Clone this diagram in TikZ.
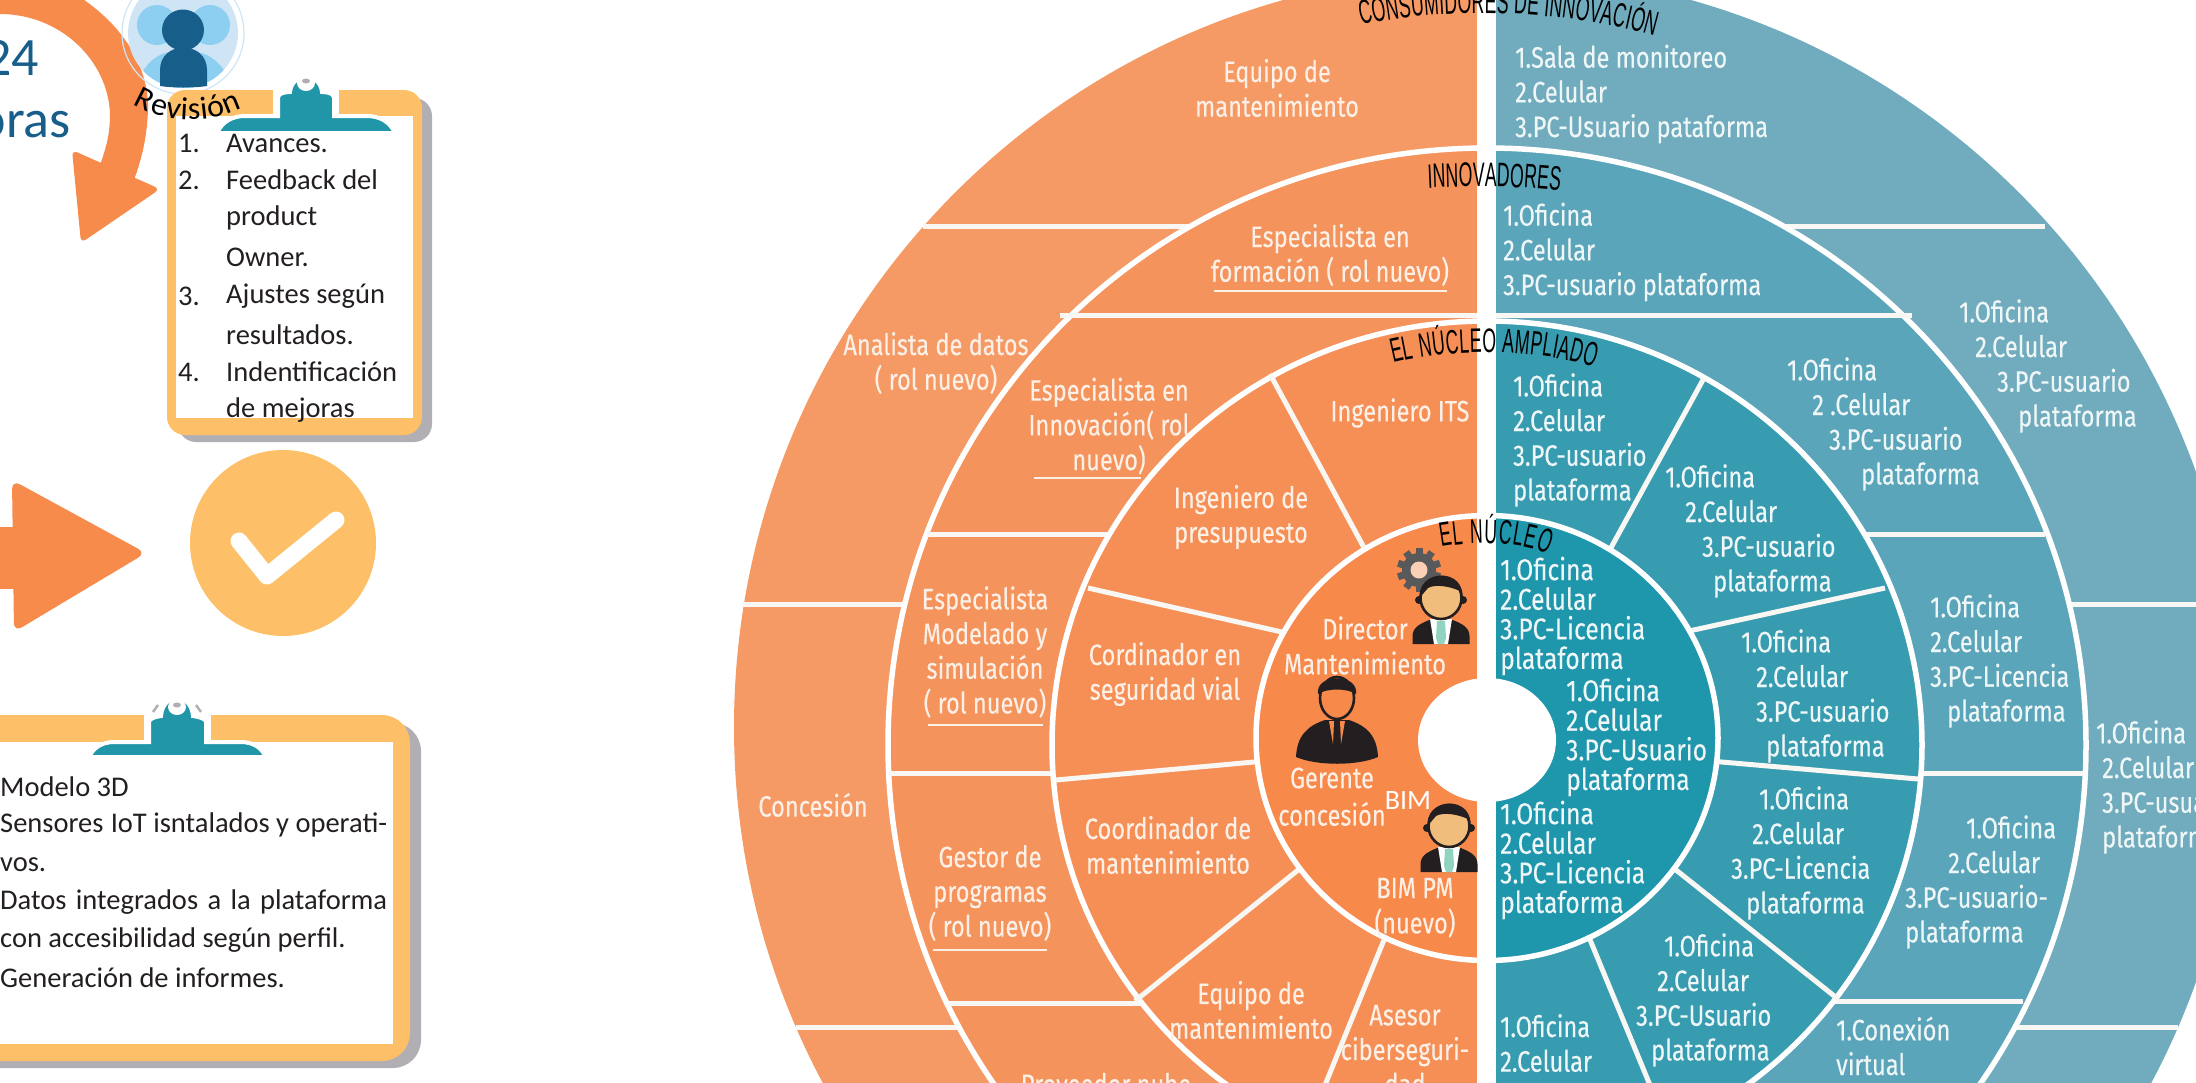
\documentclass[tikz,border=0pt]{standalone}
\usepackage{fontspec}
\usetikzlibrary{decorations.text}
\setmainfont{Carlito}
\newfontfamily\ringfam[FakeStretch=0.8,FakeBold=0.25]{Fira Sans}
\newfontfamily\nucfam[FakeStretch=0.82,FakeBold=0.25]{Fira Sans}
\newfontfamily\archfam[FakeStretch=0.52]{Liberation Sans}
\newcommand{\ringfont}{\ringfam\fontsize{29.5}{34.7}\selectfont}
\newcommand{\nucfont}{\nucfam\fontsize{30}{29.6}\selectfont}
\newcommand{\archfont}{\archfam\fontsize{34}{34}\selectfont}
\newcommand{\idt}[1]{\hspace*{#1pt}}
\definecolor{lo1}{HTML}{F59A65}
\definecolor{lo2}{HTML}{F4935C}
\definecolor{lo3}{HTML}{F68F56}
\definecolor{lo4}{HTML}{F7894B}
\definecolor{ro1}{HTML}{70ACBD}
\definecolor{ro2}{HTML}{5AA5B9}
\definecolor{ro3}{HTML}{389CB1}
\definecolor{ro4}{HTML}{1E96AC}
\definecolor{divc}{HTML}{F8F7F3}
\definecolor{ltext}{HTML}{FCF0E6}
\definecolor{rtext}{HTML}{EEF6F7}
\definecolor{arrowc}{HTML}{F68B4B}
\definecolor{board}{HTML}{FDC068}
\definecolor{shadowc}{HTML}{B1AFB3}
\definecolor{clipc}{HTML}{2096A8}
\definecolor{navy}{HTML}{175E8B}
\definecolor{sky}{HTML}{8CCFF0}
\definecolor{palesky}{HTML}{CFE5F5}
\definecolor{darkc}{HTML}{231F20}
\definecolor{facec}{HTML}{F0BD7C}
\definecolor{tiec}{HTML}{8FD3C0}
\definecolor{gearc}{HTML}{58595B}
\tikzset{
 divider/.style={draw=divc,line width=5pt},
 ringline/.style={draw=white,line width=5.5pt},
 uline/.style={draw=ltext,line width=2.4pt},
 llab/.style={text=ltext,inner sep=0pt,align=center,font=\ringfont},
 rlist/.style={text=rtext,inner sep=0pt,align=left,anchor=west,font=\ringfont},
 nlist/.style={text=rtext,inner sep=0pt,align=left,anchor=west,font=\nucfont},
 clab/.style={text=ltext,inner sep=0pt,align=center,font=\ringfont},
 notes/.style={text=darkc,inner sep=0pt,anchor=west,font=\fontsize{28.5}{38}\selectfont},
 arch/.style={decorate,decoration={text along path,text={|\archfont|#1},text align={fit to path}}}
}
% ring: cx cy rx ry leftcolour rightcolour
\newcommand{\ringfill}[6]{%
 \begin{scope}\clip (-10,-100) rectangle (1487,1200);
  \fill[#5] (#1,#2) ellipse [x radius=#3pt,y radius=#4pt];\end{scope}
 \begin{scope}\clip (1487,-100) rectangle (2300,1200);
  \fill[#6] (#1,#2) ellipse [x radius=#3pt,y radius=#4pt];\end{scope}}
\newcommand{\personicon}[2]{%
 \begin{scope}[shift={(#1,#2)}]
  \fill[darkc] (-28.5,46) -- (-28.5,38) .. controls (-28.5,29) and (-20,25) .. (-9,21) -- (9,21) .. controls (20,25) and (28.5,29) .. (28.5,38) -- (28.5,46) -- cycle;
  \fill[white] (-11,21) -- (11,21) -- (7,46) -- (-7,46) -- cycle;
  \fill[tiec] (-4,23) -- (4,23) -- (5,40) -- (3,46) -- (-3,46) -- (-5,40) -- cycle;
  \fill[darkc] (-22,2) circle [radius=4pt] (22,2) circle [radius=4pt];
  \filldraw[fill=facec,draw=darkc,line width=2.6pt] (0,0) ellipse [x radius=20.5pt,y radius=21pt];
  \fill[darkc] (-21,3) .. controls (-27,-30) and (27,-32) .. (21,3) -- (19,-7) .. controls (8,-12) and (-6,-14) .. (-13,-10) -- (-19,-3) -- cycle;
 \end{scope}}
\begin{document}
\begin{tikzpicture}[x=1pt,y=-1pt]
\useasboundingbox (0,0) rectangle (2196,1082);
\clip (0,0) rectangle (2196,1082);
% ---------- rings ----------
\ringfill{1487}{727}{753}{755}{lo1}{ro1}
\foreach \xa/\ya/\xb/\yb in {923/226/1200/226, 742/604/910/604, 796/1027/965/1027, 1775/226/2045/226, 2065/604/2196/604, 2005/1027/2178/1027}
  \draw[divider] (\xa,\ya) -- (\xb,\yb);
\ringfill{1487}{745}{599}{597}{lo2}{ro2}
\draw[ringline] (1487,745) ellipse [x radius=599pt,y radius=597pt];
\foreach \xa/\ya/\xb/\yb in {1060/315/1496/315, 1478/315/1912/315, 927/534/1115/534, 889/773/1060/773, 949/1003/1140/1003, 1860/534/2045/534, 1915/773/2083/773, 1832/1001/2023/1001}
  \draw[divider] (\xa,\ya) -- (\xb,\yb);
\ringfill{1487}{745}{435}{424}{lo3}{ro3}
\draw[ringline] (1487,745) ellipse [x radius=435pt,y radius=424pt];
\foreach \xa/\ya/\xb/\yb in {1270/374/1368/555, 1088/588/1295/635, 1056/780/1265/761, 1135/1001/1308/862, 1388/930/1323/1090,
  1704/378/1607/555, 1680/633/1885/588, 1710/761/1918/779, 1666/862/1838/999, 1586/930/1652/1090}
  \draw[divider] (\xa,\ya) -- (\xb,\yb);
\ringfill{1487}{738}{231}{222.5}{lo4}{ro4}
\draw[ringline] (1487,738) ellipse [x radius=231pt,y radius=222.5pt];
\fill[white] (1487,740) ellipse [x radius=69pt,y radius=62pt];
\fill[white] (1477,-5) rectangle (1496,1090);
% ---------- ring titles ----------
\path[arch={CONSUMIDORES DE INNOVACIÓN}] (1361,25) .. controls (1450,6) and (1560,10) .. (1655,36);
\path[arch={INNOVADORES}] (1428,188) .. controls (1470,186) and (1515,186) .. (1560,191);
\path[arch={EL NÚCLEO AMPLIADO}] (1393,363) .. controls (1455,348) and (1530,348) .. (1595,367);
\path[arch={EL NÚCLEO}] (1441,547) .. controls (1475,541) and (1515,541) .. (1548,554);
% ---------- left labels ----------
\node[llab] (l1) at (1277,88) {Equipo de\\mantenimiento};
\node[llab] (l2) at (1330,255) {Especialista en\\formación ( rol nuevo)};
\coordinate (u2a) at (1214,291); \coordinate (u2b) at (1447,291);
\draw[uline] (u2a) -- (u2b);
\node[llab] (l3) at (936,363) {Analista de datos\\( rol nuevo)};
\node[llab] (l4) at (1109,426) {Especialista en\\Innovación( rol\\nuevo)};
\coordinate (u4a) at (1034,478); \coordinate (u4b) at (1141,478);
\draw[uline] (u4a) -- (u4b);
\node[llab] (l5) at (1400,413) {Ingeniero ITS};
\node[llab] (l6) at (1241,517) {Ingeniero de\\presupuesto};
\node[llab] (l7) at (1165,674) {Cordinador en\\seguridad vial};
\node[llab] (l8) at (985,652) {Especialista\\Modelado y\\simulación\\( rol nuevo)};
\coordinate (u8a) at (928,725); \coordinate (u8b) at (1043,725);
\draw[uline] (u8a) -- (u8b);
\node[llab] (l9) at (813,805) {Concesión};
\node[llab] (l10) at (990,893) {Gestor de\\programas\\( rol nuevo)};
\coordinate (u10a) at (933,950); \coordinate (u10b) at (1047,950);
\draw[uline] (u10a) -- (u10b);
\node[llab] (l11) at (1168,845) {Coordinador de\\mantenimiento};
\node[llab] (l12) at (1251,1010) {Equipo de\\mantenimiento};
\node[llab] (l13) at (1405,1050) {Asesor\\ciberseguri-\\dad};
\node[llab] (l14) at (1106,1084) {Proveedor nube};
% ---------- nucleus, left ----------
\begin{scope}[shift={(1419,570)}]
 \foreach \a in {0,36,...,324}
  \fill[gearc,rotate=\a] (-3.5,-22) rectangle (3.5,-14);
 \fill[gearc] (0,0) circle [radius=17pt];
 \fill[lo4!40!white] (0,0) circle [radius=8.5pt];
\end{scope}
\personicon{1441}{598}
\personicon{1449}{826}
\begin{scope}[shift={(1337,698)}]
 \fill[darkc] (-41,59) .. controls (-40,38) and (-30,28) .. (-12,22) -- (12,22) .. controls (30,28) and (40,38) .. (41,59) .. controls (20,68) and (-20,68) .. (-41,59) -- cycle;
 \fill[lo4] (-8,23) -- (-3,23) -- (-4,46) -- cycle (8,23) -- (3,23) -- (4,46) -- cycle;
 \filldraw[fill=lo4,draw=darkc,line width=2.6pt] (0,0) ellipse [x radius=17pt,y radius=21pt];
 \fill[darkc] (-19,-4) .. controls (-22,-25) and (22,-25) .. (19,-4) .. controls (10,-10) and (-10,-10) .. (-19,-4) -- cycle;
\end{scope}
\node[clab] (d1) at (1365,628) {Director};
\node[clab] (d2) at (1365,663) {Mantenimiento};
\node[clab] (g1) at (1332,778) {Gerente};
\node[clab] (g2) at (1332,814) {concesión};
\node[text=white,inner sep=0pt,font=\fontsize{28}{30}\selectfont] (b0) at (1408,801) {BIM};
\node[clab] (b1) at (1415,888) {BIM PM};
\node[clab] (b2) at (1415,923) {(nuevo)};
% ---------- right lists ----------
\node[rlist] (r1) at (1515,94) {1.Sala de monitoreo\\2.Celular\\3.PC-Usuario pataforma};
\node[rlist] (r2) at (1503,252) {1.Oficina\\2.Celular\\3.PC-usuario plataforma};
\node[rlist] (r3) at (1959,366) {1.Oficina\\\idt{16}2.Celular\\\idt{38}3.PC-usuario\\\idt{59}plataforma};
\node[rlist] (r4) at (2096,787) {1.Oficina\\\idt{6}2.Celular\\\idt{6}3.PC-usuario\\\idt{6}plataforma};
\node[rlist] (r5) at (1787,424) {1.Oficina\\\idt{25}2 .Celular\\\idt{42}3.PC-usuario\\\idt{74}plataforma};
\node[rlist] (r6) at (1930,661) {1.Oficina\\2.Celular\\3.PC-Licencia\\\idt{17}plataforma};
\node[rlist] (r7) at (1905,882) {\idt{61}1.Oficina\\\idt{43}2.Celular\\3.PC-usuario-\\plataforma};
\node[rlist] (r8) at (1836,1046) {1.Conexión\\virtual};
\node[rlist] (m1) at (1513,440) {1.Oficina\\2.Celular\\3.PC-usuario\\plataforma};
\node[rlist] (m2) at (1665,531) {1.Oficina\\\idt{20}2.Celular\\\idt{37}3.PC-usuario\\\idt{48}plataforma};
\node[rlist] (m3) at (1741,696) {1.Oficina\\\idt{15}2.Celular\\\idt{15}3.PC-usuario\\\idt{25}plataforma};
\node[rlist] (m4) at (1731,853) {\idt{28}1.Oficina\\\idt{21}2.Celular\\3.PC-Licencia\\\idt{15}plataforma};
\node[rlist] (m5) at (1636,1000) {\idt{28}1.Oficina\\\idt{21}2.Celular\\3.PC-Usuario\\\idt{15}plataforma};
\node[rlist] (m6) at (1500,1043) {1.Oficina\\2.Celular};
\node[nlist] (n1) at (1500,616) {1.Oficina\\2.Celular\\3.PC-Licencia\\plataforma};
\node[nlist] (n2) at (1566,737) {1.Oficina\\2.Celular\\3.PC-Usuario\\plataforma};
\node[nlist] (n3) at (1500,860) {1.Oficina\\2.Celular\\3.PC-Licencia\\plataforma};
% ---------- curved arrow ----------
\fill[arrowc] (0,-30) .. controls (60,-30) and (150,30) .. (148,110) .. controls (147,135) and (143,155) .. (134,180) -- (100,165) .. controls (108,143) and (110,130) .. (110,114) .. controls (108,60) and (60,14) .. (0,14) -- cycle;
\fill[arrowc,rounded corners=6pt] (72,150) -- (160,189) -- (81,243) -- cycle;
\node[text=navy,inner sep=0pt,anchor=base east,font=\fontsize{54}{54}\selectfont] (t24) at (39,75) {24};
\node[text=navy,inner sep=0pt,anchor=base east,font=\fontsize{54}{54}\selectfont] (thoras) at (71,137) {horas};
% ---------- people circle ----------
\draw[draw=palesky,line width=1.2pt] (183,33) circle [radius=61pt];
\fill[palesky] (183,33) circle [radius=55pt];
\begin{scope}
 \clip (183,33) circle [radius=55pt];
 \fill[sky] (157,25) circle [radius=20pt] (210,25) circle [radius=20pt];
 \fill[sky] (136,100) .. controls (134,60) and (175,40) .. (183,60) .. controls (191,40) and (234,60) .. (232,100) -- cycle;
\end{scope}
\fill[navy] (183,30) ellipse [x radius=21pt,y radius=20.5pt];
\fill[navy] (160,86) -- (160,70) .. controls (160,40) and (207,40) .. (207,70) -- (207,86) .. controls (195,88) and (172,88) .. (160,86) -- cycle;
% ---------- board 1 ----------
\fill[shadowc,rounded corners=18pt] (178,98) rectangle (432,442);
\fill[board,rounded corners=18pt] (167,90) rectangle (422,435);
\fill[white] (176,116) rectangle (413,418);
\fill[white] (273,88) rectangle (339,116);
\fill[clipc,draw=white,line width=4pt] (217,133) .. controls (222,122) and (232,116) .. (245,116) -- (278,116) -- (278,98) .. controls (278,94) and (283,92) .. (290,92) .. controls (292,72) and (320,72) .. (322,92) .. controls (329,92) and (334,94) .. (334,98) -- (334,116) -- (367,116) .. controls (380,116) and (390,122) .. (395,133) -- cycle;
\fill[white] (306,83) ellipse [x radius=9pt,y radius=8pt];
\fill[shadowc] (306,81) ellipse [x radius=4pt,y radius=2.5pt];
\path[decorate,decoration={text along path,text={|\fontsize{32}{32}\selectfont|Revisión},text align={fit to path}}] (133,104) .. controls (165,124) and (210,124) .. (242,108);
\node[notes] (c1a) at (178,143) {1.}; \node[notes] (c1b) at (226,143) {Avances.};
\node[notes] (c2a) at (178,180) {2.}; \node[notes] (c2b) at (226,180) {Feedback del};
\node[notes] (c2c) at (226,218) {product};
\node[notes] (c2d) at (226,257) {Owner.};
\node[notes] (c3a) at (178,296) {3.}; \node[notes] (c3b) at (226,296) {Ajustes según};
\node[notes] (c3c) at (226,335) {resultados.};
\node[notes] (c4a) at (178,372) {4.}; \node[notes] (c4b) at (226,372) {Indentificación};
\node[notes] (c4c) at (226,410) {de mejoras};
% ---------- arrow and check ----------
\fill[arrowc] (-5,527) rectangle (40,589);
\fill[arrowc,rounded corners=9pt] (12,480) -- (146,553) -- (14,632) -- cycle;
\fill[board] (283,543) circle [radius=93pt];
\draw[white,line width=17pt,line cap=round,line join=round] (239,541) -- (267,576) -- (336,520);
% ---------- board 2 ----------
\fill[shadowc,rounded corners=28pt] (-40,723) rectangle (421,1068);
\fill[board,rounded corners=28pt] (-40,715) rectangle (410,1061);
\fill[white] (-5,742) rectangle (393,1044);
\fill[white] (144,713) rectangle (211,742);
\fill[clipc,draw=white,line width=4pt] (89,757) .. controls (94,747) and (102,742) .. (115,742) -- (149,742) -- (149,722) .. controls (149,719) and (154,717) .. (161,716) .. controls (163,692) and (191,692) .. (193,716) .. controls (200,717) and (206,719) .. (206,722) -- (206,742) -- (240,742) .. controls (253,742) and (261,747) .. (266,757) -- cycle;
\fill[white] (177,707) ellipse [x radius=9pt,y radius=8pt];
\fill[shadowc] (177,705) ellipse [x radius=4pt,y radius=2.5pt];
\draw[shadowc,line width=2.5pt] (153,712) -- (158,705) (201,712) -- (196,705);
\node[notes] (k1) at (0,787) {Modelo 3D};
\node[notes] (k2) at (0,825) {\hbox to 387pt{Sensores\hfill IoT isntalados y operati-}};
\node[notes] (k3) at (0,865) {vos.};
\node[notes] (k4) at (0,902) {\hbox to 387pt{Datos\hfill integrados\hfill a\hfill la\hfill plataforma}};
\node[notes] (k5) at (0,940) {con accesibilidad según perfil.};
\node[notes] (k6) at (0,978) {Generación de informes.};
\end{tikzpicture}
\end{document}
